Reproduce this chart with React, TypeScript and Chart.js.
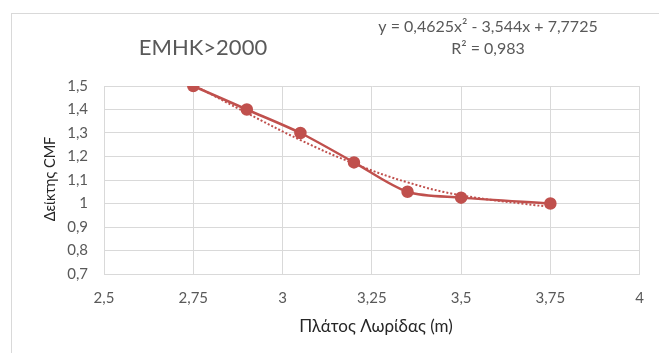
import React, { useEffect, useRef } from "react";
import { Chart, registerables } from "chart.js";

Chart.register(...registerables);

const widths = [2.75, 2.9, 3.05, 3.2, 3.35, 3.5, 3.75];
const cmf = [1.5, 1.4, 1.3, 1.175, 1.05, 1.025, 1.0];
const trendX = [2.75, 2.9, 3.05, 3.2, 3.35, 3.5, 3.75];
const trendY = [1.505, 1.385, 1.27, 1.17, 1.09, 1.035, 0.985];

const chartTitle = "EMHK>2000";
const equationText = "y = 0,4625x² - 3,544x + 7,7725";
const r2Text = "R² = 0,983";
const xTitle = "Πλάτος Λωρίδας (m)";
const yTitle = "Δείκτης CMF";

const RED = "#C0504D";
const FONT = "Lato, 'Open Sans', sans-serif";

const fmt = (v: number, d: number) => {
  const r = Math.round(v * Math.pow(10, d)) / Math.pow(10, d);
  return String(r).replace(".", ",");
};

const textPlugin = {
  id: "textPlugin",
  beforeDraw(chart: any) {
    const ctx = chart.ctx;
    ctx.save();
    ctx.fillStyle = "#ffffff";
    ctx.fillRect(0, 0, chart.width, chart.height);
    ctx.strokeStyle = "#d9d9d9";
    ctx.lineWidth = 1;
    ctx.strokeRect(11.5, 13.5, 800, 500);
    ctx.restore();
  },
  afterDraw(chart: any) {
    const ctx = chart.ctx;
    ctx.save();
    ctx.textAlign = "center";
    ctx.textBaseline = "middle";
    ctx.fillStyle = "#595959";
    ctx.font = `22px ${FONT}`;
    ctx.fillText(chartTitle, 203, 48);
    ctx.font = `16px ${FONT}`;
    ctx.fillText(equationText, 488, 27);
    ctx.fillText(r2Text, 488, 49);
    ctx.fillStyle = "#262626";
    ctx.font = `17px ${FONT}`;
    ctx.fillText(xTitle, 376, 327);
    ctx.font = `14.5px ${FONT}`;
    ctx.translate(50, 179);
    ctx.rotate(-Math.PI / 2);
    ctx.fillText(yTitle, 0, 0);
    ctx.restore();
  },
};

export default function App() {
  const ref = useRef<HTMLCanvasElement>(null);
  useEffect(() => {
    document.body.style.margin = "0";
    const chart = new Chart(ref.current as HTMLCanvasElement, {
      type: "scatter",
      data: {
        datasets: [
          {
            data: trendX.map((x, i) => ({ x, y: trendY[i] })),
            showLine: true,
            borderColor: RED,
            borderWidth: 2,
            borderDash: [2, 2],
            pointRadius: 0,
            tension: 0.4,
            order: 2,
          },
          {
            data: widths.map((x, i) => ({ x, y: cmf[i] })),
            showLine: true,
            borderColor: RED,
            backgroundColor: RED,
            borderWidth: 2.5,
            pointRadius: 5,
            pointBackgroundColor: RED,
            pointBorderColor: RED,
            tension: 0.3,
            order: 1,
          },
        ],
      },
      options: {
        animation: false,
        responsive: false,
        maintainAspectRatio: false,
        layout: { padding: { top: 86, right: 15, left: 0, bottom: 0 } },
        plugins: { legend: { display: false }, tooltip: { enabled: false } },
        scales: {
          x: {
            type: "linear",
            min: 2.5,
            max: 4,
            afterFit: (s: any) => {
              s.height = 79;
            },
            grid: { color: "#d9d9d9", drawTicks: false },
            border: { color: "#d9d9d9" },
            ticks: {
              stepSize: 0.25,
              padding: 15,
              color: "#595959",
              font: { family: FONT, size: 15 },
              callback: (v: any) => fmt(Number(v), 2),
            },
          },
          y: {
            type: "linear",
            min: 0.7,
            max: 1.5,
            afterFit: (s: any) => {
              s.width = 104;
            },
            grid: { color: "#d9d9d9", drawTicks: false },
            border: { color: "#d9d9d9" },
            ticks: {
              stepSize: 0.1,
              padding: 16,
              color: "#595959",
              font: { family: FONT, size: 15 },
              callback: (v: any) => fmt(Number(v), 1),
            },
          },
        },
      },
      plugins: [textPlugin],
    } as any);
    return () => chart.destroy();
  }, []);
  return (
    <div style={{ width: 659, height: 353 }}>
      <canvas ref={ref} width={659} height={353} style={{ display: "block" }} />
    </div>
  );
}
